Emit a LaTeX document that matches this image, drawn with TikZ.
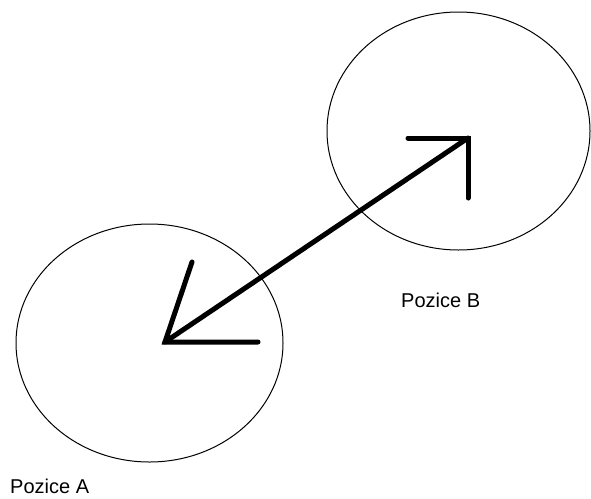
\documentclass[tikz,border=0pt]{standalone}
\usepackage{fontspec}
\setmainfont{Liberation Sans}
\usetikzlibrary{shapes.geometric}
\begin{document}
\begin{tikzpicture}[x=1pt,y=-1pt,
  zone/.style={draw, line width=1pt, ellipse, inner sep=0pt},
  thick arrow/.style={line width=5pt, line cap=round, line join=miter},
  lbl/.style={font=\fontsize{20}{23}\selectfont, inner sep=0pt}]
\useasboundingbox (0,0) rectangle (591,498);
\node[zone, minimum width=267pt, minimum height=238pt] (A) at (149.5,343) {};
\node[zone, minimum width=263pt, minimum height=238pt] (B) at (458.5,131) {};
\coordinate (tipA) at (165,342);
\coordinate (tipB) at (468,138);
\coordinate (armA1) at (258,342);
\coordinate (armA2) at (192,262);
\coordinate (armB1) at (408,138);
\coordinate (armB2) at (468,198);
\draw[thick arrow] (tipA) -- (tipB);
\draw[thick arrow] (armA2) -- (tipA) -- (armA1);
\draw[thick arrow] (armB1) -- (tipB) -- (armB2);
\node[lbl, anchor=west] (labA) at (10,486) {Pozice A};
\node[lbl, anchor=west] (labB) at (401,300) {Pozice B};
\end{tikzpicture}
\end{document}
